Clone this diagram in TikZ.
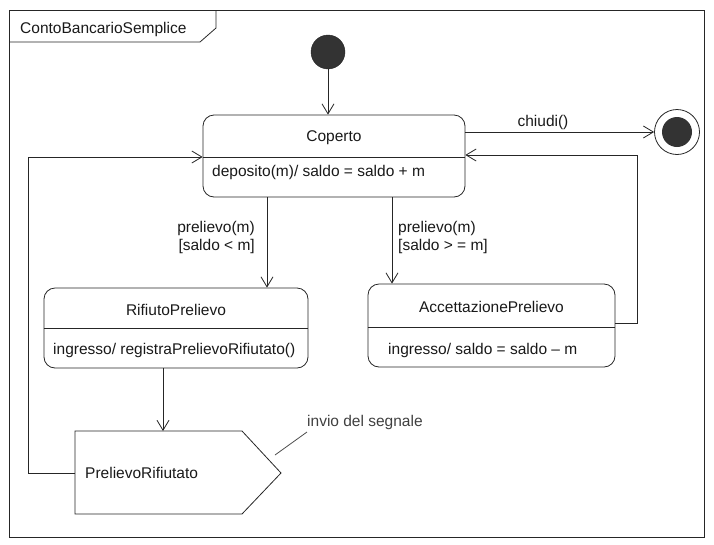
\documentclass[tikz,border=0pt]{standalone}
\usepackage{fontspec}
\setmainfont{Liberation Sans}
\usetikzlibrary{arrows.meta}
\begin{document}
\begin{tikzpicture}[x=1pt,y=-1pt,
  every node/.style={font=\fontsize{15.5}{18}\selectfont},
  line/.style={draw=black!85,line width=0.8pt},
  arr/.style={line,-{Straight Barb[length=10pt,width=12pt,line width=0.8pt]}},
  statebox/.style={line,rounded corners=11pt,minimum width=#1,inner sep=0pt},
  txt/.style={inner sep=0pt,text=black!90}]
\useasboundingbox (0,0) rectangle (714,544);
% frame
\draw[line] (9,10) rectangle (704,537);
\draw[line] (9,42) -- (200,42) -- (216,28) -- (216,10);
\node[txt,anchor=west] (title) at (20,29) {ContoBancarioSemplice};
% initial and final states
\node[circle,fill=black!80,draw=black!85,minimum size=34pt,inner sep=0] (init) at (328,52) {};
\node[circle,line,minimum size=45pt,inner sep=0] (final) at (677,132) {};
\node[circle,fill=black!80,minimum size=30pt,inner sep=0] (finalin) at (677,132) {};
% states
\node[statebox=262pt,minimum height=82pt] (cop) at (334,156) {};
\draw[line] (cop.west |- 0,157) -- (cop.east |- 0,157);
\node[txt] (copt) at (334,138) {Coperto};
\node[txt,anchor=west] (copa) at (212,172) {deposito(m)/ saldo = saldo + m};

\node[statebox=264pt,minimum height=80pt] (rif) at (176,328) {};
\draw[line] (rif.west |- 0,328) -- (rif.east |- 0,328);
\node[txt] (rift) at (176,310) {RifiutoPrelievo};
\node[txt,anchor=west] (rifa) at (53,350) {ingresso/ registraPrelievoRifiutato()};

\node[statebox=247pt,minimum height=83pt] (acc) at (491.5,325.5) {};
\draw[line] (acc.west |- 0,327) -- (acc.east |- 0,327);
\node[txt] (acct) at (491.5,307) {AccettazionePrelievo};
\node[txt,anchor=west] (acca) at (388,350) {ingresso/ saldo = saldo -- m};

% signal
\coordinate (sigW) at (75,473);
\coordinate (sigN) at (163,431);
\draw[line] (75,431) -- (242,431) -- (281,473) -- (242,514) -- (75,514) -- cycle;
\node[txt,anchor=west] (sigt) at (85,473) {PrelievoRifiutato};
% note
\node[txt,anchor=west,text=black!75] (note) at (307,422) {invio del segnale};
\coordinate (noteend) at (307,432);
\coordinate (notestart) at (275,455);
\draw[line,draw=black!70] (notestart) -- (noteend);

% transitions
\draw[arr] (init) -- (init |- cop.north);
\draw[arr] (cop.east |- 0,132) -- (final.west);
\node[txt] (chiudi) at (543,122) {chiudi()};
\draw[arr] (cop.south -| 267,0) -- (rif.north -| 267,0);
\node[txt,anchor=east,align=right] (g1) at (255,237) {prelievo(m)\\{}[saldo < m]};
\draw[arr] (cop.south -| 392,0) -- (acc.north -| 392,0);
\node[txt,anchor=west,align=left] (g2) at (398,237) {prelievo(m)\\{}[saldo > = m]};
\draw[arr] (rif.south -| 163,0) -- (sigN);
\draw[arr] (sigW) -- (28,473) -- (28,157) -- (cop.west |- 0,157);
\draw[arr] (acc.east |- 0,323) -- (637,323) -- (637,155) -- (cop.east |- 0,155);
\end{tikzpicture}
\end{document}
